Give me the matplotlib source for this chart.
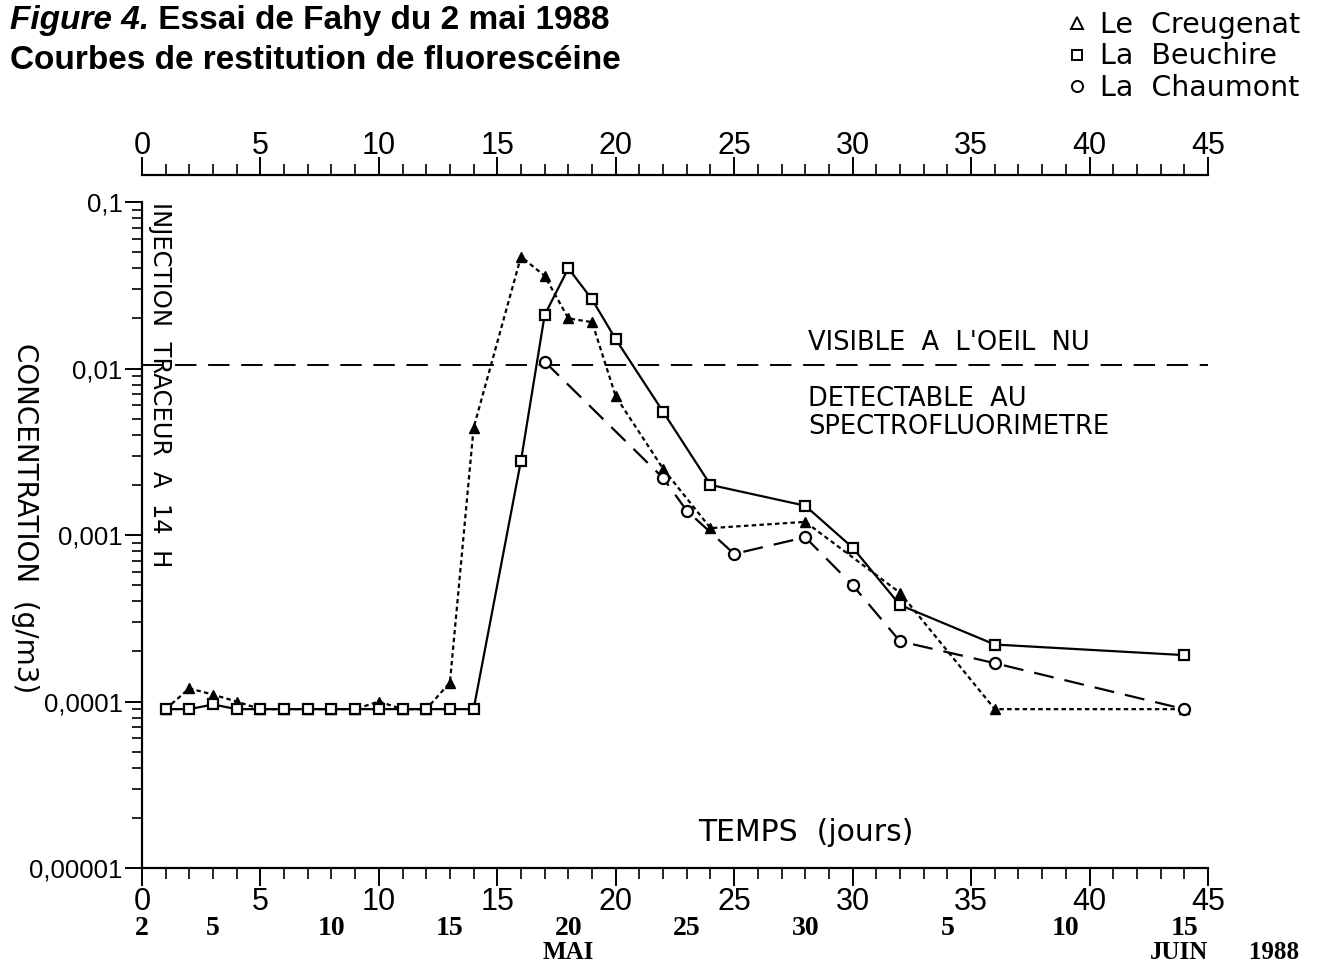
import matplotlib
matplotlib.use('Agg')
import matplotlib.pyplot as plt
from matplotlib.lines import Line2D
from matplotlib.ticker import MultipleLocator, FixedLocator, FixedFormatter, LogLocator, NullFormatter

# Le Creugenat (triangles, dotted)
days_creugenat = [1, 2, 3, 4, 5, 6, 7, 8, 9, 10, 11, 12, 13, 14, 16, 17, 18, 19, 20, 22, 24, 28, 32, 36, 44]
conc_creugenat = [9e-5, 1.2e-4, 1.1e-4, 1.0e-4, 9e-5, 9e-5, 9e-5, 9e-5, 9e-5, 1.0e-4, 9e-5, 9e-5, 1.3e-4,
                  4.4e-3, 0.047, 0.036, 0.020, 0.019, 0.0068, 0.0025, 0.0011, 0.0012, 0.00045, 9e-5, 9e-5]

# La Beuchire (squares, solid)
days_beuchire = [1, 2, 3, 4, 5, 6, 7, 8, 9, 10, 11, 12, 13, 14, 16, 17, 18, 19, 20, 22, 24, 28, 30, 32, 36, 44]
conc_beuchire = [9e-5, 9e-5, 9.6e-5, 9e-5, 9e-5, 9e-5, 9e-5, 9e-5, 9e-5, 9e-5, 9e-5, 9e-5, 9e-5, 9e-5,
                 2.8e-3, 0.021, 0.040, 0.026, 0.015, 0.0055, 0.0020, 0.0015, 0.00084, 0.00038, 0.00022, 0.00019]

# La Chaumont (circles, dashed)
days_chaumont = [17, 22, 23, 25, 28, 30, 32, 36, 44]
conc_chaumont = [0.011, 0.0022, 0.0014, 0.00077, 0.00097, 0.0005, 0.00023, 0.00017, 9e-5]

visible_threshold = 0.0105

y_ticks = [1e-5, 1e-4, 1e-3, 1e-2, 1e-1]
y_labels = ['0,00001', '0,0001', '0,001', '0,01', '0,1']

day_ticks = [0, 5, 10, 15, 20, 25, 30, 35, 40, 45]

# calendar row under the day axis (day 0 = 2 mai)
date_days = [0, 3, 8, 13, 18, 23, 28, 34, 39, 44]
date_labels = ['2', '5', '10', '15', '20', '25', '30', '5', '10', '15']

num_font = 'Liberation Sans'
serif = 'Liberation Serif'

fig = plt.figure(figsize=(13.17, 9.69), dpi=100)
ax = fig.add_axes([0.1078, 0.1042, 0.8094, 0.6873])

ax.plot(days_creugenat, conc_creugenat, color='k', ls=(0, (2, 1.5)), lw=1.6,
        marker='^', ms=7, mfc='k', mec='k', zorder=3)
ax.plot(days_chaumont, conc_chaumont, color='k', ls=(0, (9, 5)), lw=1.6,
        marker='o', ms=8, mfc='white', mec='k', mew=1.6, zorder=4)
ax.plot(days_beuchire, conc_beuchire, color='k', ls='-', lw=1.6,
        marker='s', ms=7, mfc='white', mec='k', mew=1.6, zorder=5)
ax.axhline(visible_threshold, color='k', ls=(0, (11, 6)), lw=1.4)

ax.set_yscale('log')
ax.set_xlim(0, 45)
ax.set_ylim(1e-5, 0.1)
for s in ['top', 'right']:
    ax.spines[s].set_visible(False)
for s in ['left', 'bottom']:
    ax.spines[s].set_linewidth(1.6)

ax.yaxis.set_major_locator(FixedLocator(y_ticks))
ax.yaxis.set_major_formatter(FixedFormatter(y_labels))
ax.yaxis.set_minor_locator(LogLocator(base=10, subs=range(2, 10)))
ax.yaxis.set_minor_formatter(NullFormatter())
ax.tick_params(axis='y', which='major', direction='out', length=12, width=1.4, pad=2)
ax.tick_params(axis='y', which='minor', direction='out', length=7, width=1.2)
for lab in ax.get_yticklabels():
    lab.set_family(num_font)
    lab.set_fontsize(18.5)

ax.xaxis.set_major_locator(FixedLocator(day_ticks))
ax.xaxis.set_minor_locator(MultipleLocator(1))
ax.tick_params(axis='x', which='major', direction='out', length=13, width=1.4, pad=0.5)
ax.tick_params(axis='x', which='minor', direction='out', length=8, width=1.2)
for lab in ax.get_xticklabels():
    lab.set_family(num_font)
    lab.set_fontsize(22)

# top day scale
sec = ax.secondary_xaxis(1.0405)
sec.xaxis.set_major_locator(FixedLocator(day_ticks))
sec.xaxis.set_minor_locator(MultipleLocator(1))
sec.spines['top'].set_linewidth(1.6)
sec.tick_params(axis='x', which='major', direction='out', length=13, width=1.4, pad=-3)
sec.tick_params(axis='x', which='minor', direction='out', length=8, width=1.2)
for lab in sec.get_xticklabels():
    lab.set_family(num_font)
    lab.set_fontsize(22)

# calendar labels
xt = ax.get_xaxis_transform()
for d, lab in zip(date_days, date_labels):
    ax.text(d, -0.0901, lab, transform=xt, ha='center', va='center',
            family=serif, fontweight='bold', fontsize=20)
ax.text(18, -0.127, 'MAI', transform=xt, ha='center', va='center',
        family=serif, fontweight='bold', fontsize=18)
ax.text(43.8, -0.127, 'JUIN', transform=xt, ha='center', va='center',
        family=serif, fontweight='bold', fontsize=18)
ax.text(47.8, -0.127, '1988', transform=xt, ha='center', va='center',
        family=serif, fontweight='bold', fontsize=18)

# annotations
ax.text(0.76, 1.0, 'INJECTION  TRACEUR  A  14  H', transform=xt, rotation=270,
        ha='center', va='top', fontsize=17.5)
ax.text(0.625, 0.788, "VISIBLE  A  L'OEIL  NU", transform=ax.transAxes,
        ha='left', va='center', fontsize=18.5)
ax.text(0.625, 0.683, 'DETECTABLE  AU\nSPECTROFLUORIMETRE', transform=ax.transAxes,
        ha='left', va='center', fontsize=18.5, linespacing=1.13)
ax.text(0.623, 0.0526, 'TEMPS  (jours)', transform=ax.transAxes,
        ha='center', va='center', fontsize=21.5)

fig.text(25 / 1317, 1 - 518 / 969, 'CONCENTRATION  (g/m3)', rotation=270,
         ha='center', va='center', fontsize=20)

# title
t1 = fig.text(10 / 1317, 1 - 29 / 969, 'Figure 4.', family='Liberation Sans',
              fontweight='bold', style='italic', fontsize=24, va='baseline')
ax.annotate(' Essai de Fahy du 2 mai 1988', xy=(1, 0), xycoords=t1, va='bottom',
            ha='left', family='Liberation Sans', fontweight='bold', fontsize=24,
            annotation_clip=False)
fig.text(10 / 1317, 1 - 69 / 969, 'Courbes de restitution de fluorescéine',
         family='Liberation Sans', fontweight='bold', fontsize=24, va='baseline')

# legend
handles = [
    Line2D([], [], ls='none', marker='^', ms=8, mfc='white', mec='k', mew=1.4),
    Line2D([], [], ls='none', marker='s', ms=7, mfc='white', mec='k', mew=1.4),
    Line2D([], [], ls='none', marker='o', ms=8, mfc='white', mec='k', mew=1.4),
]
fig.legend(handles, ['Le  Creugenat', 'La  Beuchire', 'La  Chaumont'],
           loc='upper right', bbox_to_anchor=(1317 / 1317, 1 + 6 / 969),
           frameon=False, fontsize=20.5, handlelength=1.0, handletextpad=0.3,
           labelspacing=0.12, borderpad=0.1)

fig.savefig('out.png', dpi=100)
